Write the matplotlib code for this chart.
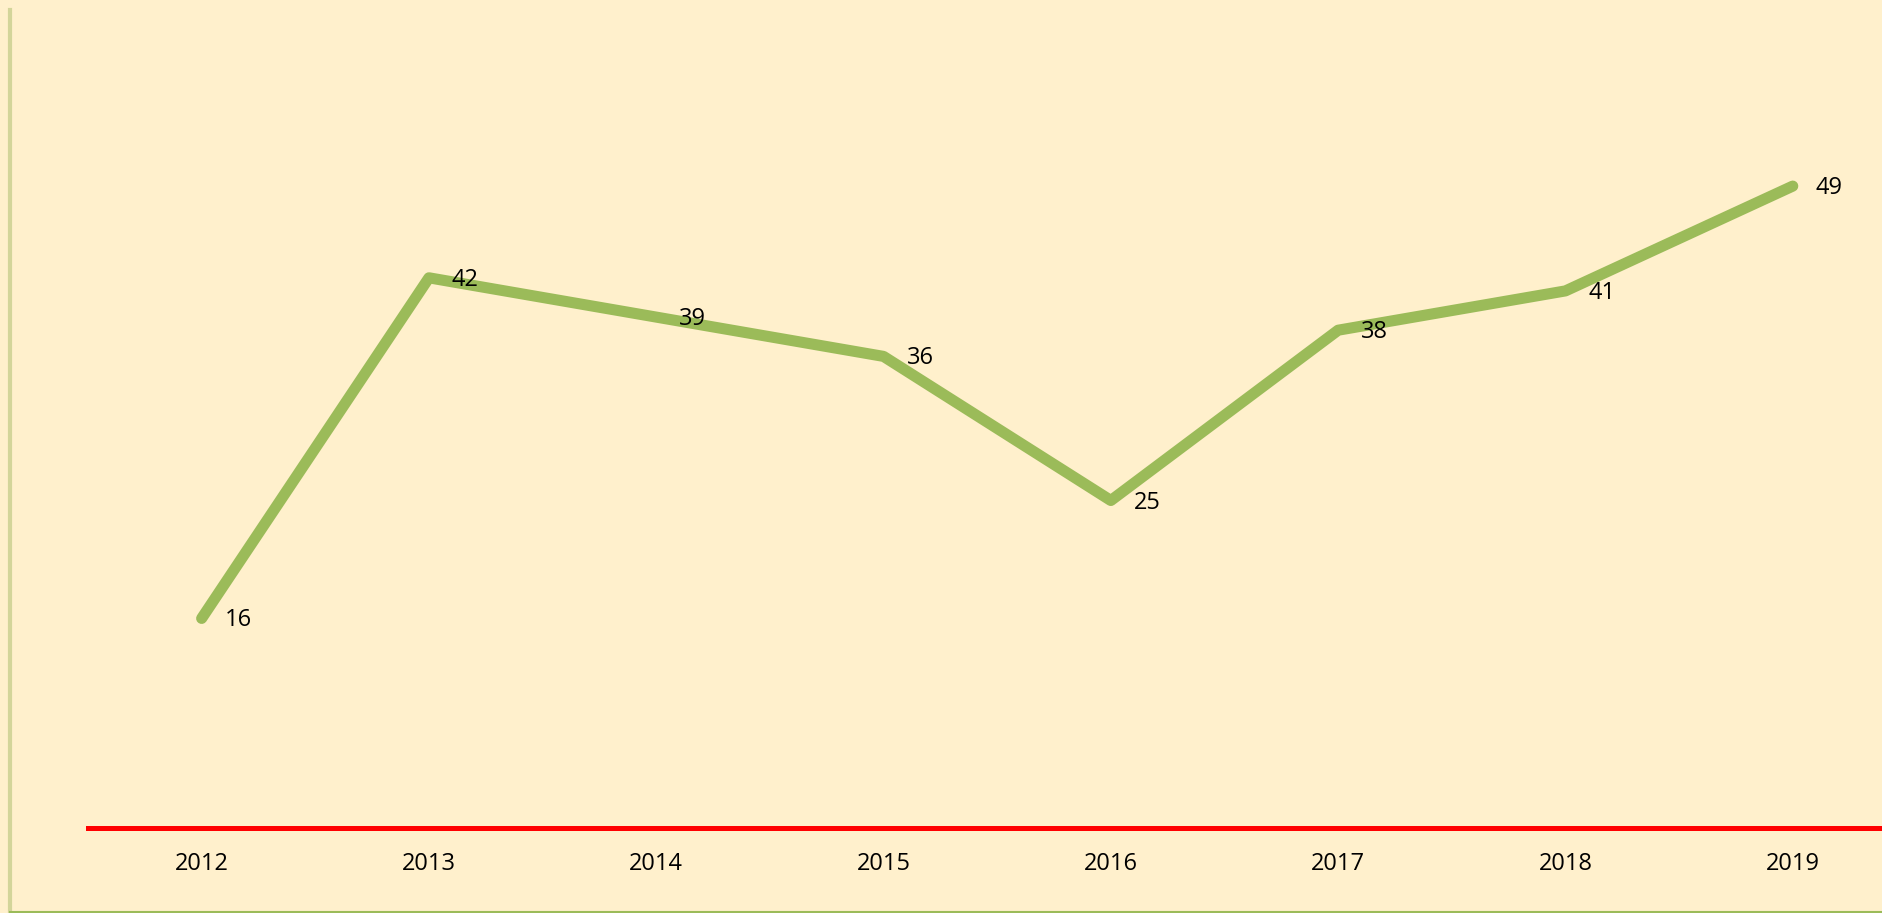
import matplotlib.pyplot as plt
from matplotlib.lines import Line2D

years = ["2012", "2013", "2014", "2015", "2016", "2017", "2018", "2019"]
values = [16, 42, 39, 36, 25, 38, 41, 49]

bg = "#FFF0CC"
green = "#9BBB59"

plt.rcParams['font.family'] = ['Open Sans', 'DejaVu Sans']

fig = plt.figure(figsize=(18.83, 9.13), dpi=100)
fig.patch.set_facecolor(bg)

# axes run past the right edge, like the cropped original
ax = fig.add_axes([88 / 1883, 85 / 913, 1795 / 1883, 786 / 913])
ax.set_facecolor(bg)

x = list(range(len(years)))
ax.plot(x, values, color=green, linewidth=8, solid_capstyle='round',
        solid_joinstyle='round', zorder=3)

for xi, v in zip(x, values):
    ax.annotate(str(v), (xi, v), xytext=(16.5, -1.5), textcoords='offset points',
                ha='left', va='center', fontsize=17, color='black', zorder=4)

ax.set_xlim(-0.5, -0.5 + 1795 / 227.3)
ax.set_ylim(0, 60)
ax.set_xticks(x)
ax.set_xticklabels(years, fontsize=17)
ax.tick_params(axis='x', length=0, pad=17)
ax.set_yticks([])

for side in ["top", "left", "right"]:
    ax.spines[side].set_visible(False)
ax.spines["bottom"].set_color("red")
ax.spines["bottom"].set_linewidth(3.6)
ax.spines["bottom"].set_zorder(2)

# chart frame edges (left shadow and bottom border)
fig.add_artist(Line2D([10 / 1883, 10 / 1883], [0.0, 1 - 10 / 913],
                      transform=fig.transFigure, color="#D3D59A", linewidth=3))
fig.add_artist(Line2D([10 / 1883, 1.0], [1 / 913, 1 / 913],
                      transform=fig.transFigure, color=green, linewidth=1.5))

fig.savefig("out.png", dpi=100, facecolor=bg)
